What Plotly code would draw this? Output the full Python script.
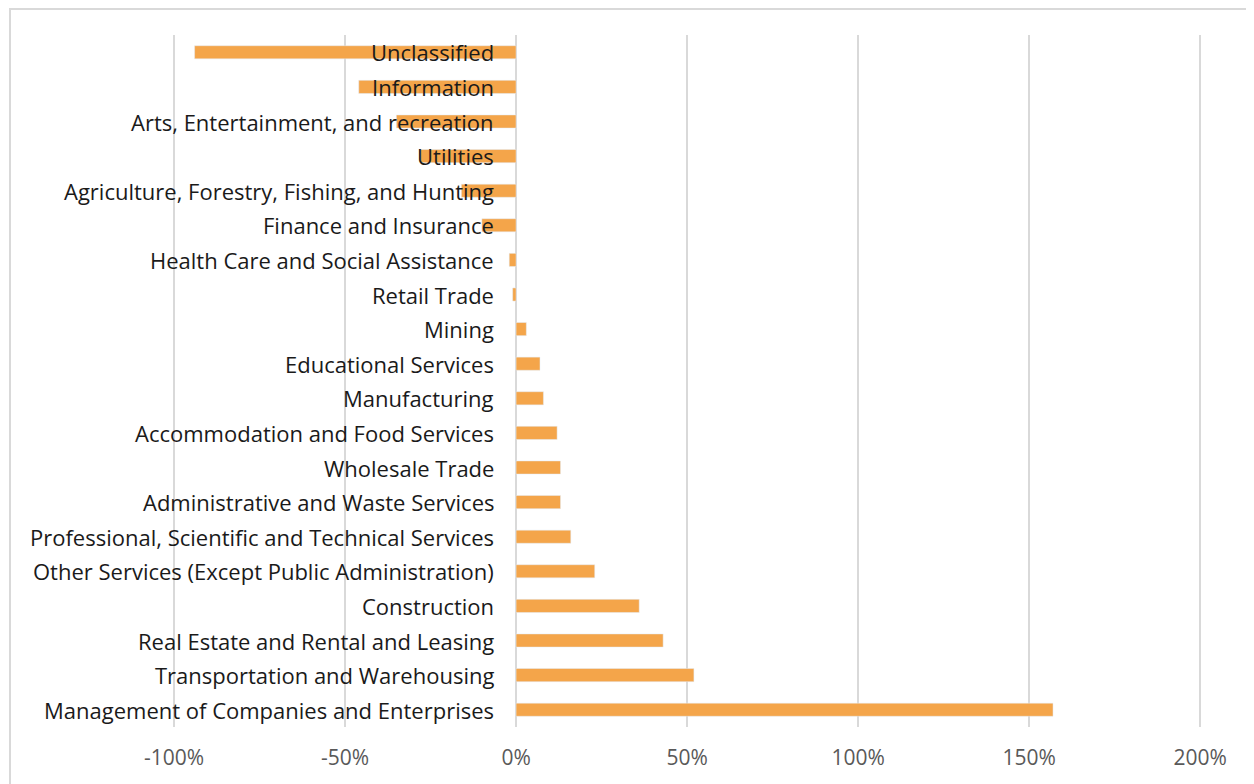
import plotly.graph_objects as go

industries = [
    "Management of Companies and Enterprises",
    "Transportation and Warehousing",
    "Real Estate and Rental and Leasing",
    "Construction",
    "Other Services (Except Public Administration)",
    "Professional, Scientific and Technical Services",
    "Administrative and Waste Services",
    "Wholesale Trade",
    "Accommodation and Food Services",
    "Manufacturing",
    "Educational Services",
    "Mining",
    "Retail Trade",
    "Health Care and Social Assistance",
    "Finance and Insurance",
    "Agriculture, Forestry, Fishing, and Hunting",
    "Utilities",
    "Arts, Entertainment, and recreation",
    "Information",
    "Unclassified",
]
change_pct = [157, 52, 43, 36, 23, 16, 13, 13, 12, 8, 7, 3, -1, -2, -10, -16, -28, -35, -46, -94]
x_ticks = [-100, -50, 0, 50, 100, 150, 200]
x_tick_labels = ["-100%", "-50%", "0%", "50%", "100%", "150%", "200%"]

fig = go.Figure()
fig.add_trace(go.Bar(
    x=change_pct, y=industries, orientation="h",
    marker_color="#F4A54A", width=0.38,
))

# category labels sit at the zero line, over the negative bars
for name in industries:
    fig.add_annotation(
        x=0, y=name, xref="x", yref="y", text=name, showarrow=False,
        xanchor="right", xshift=-20,
        font=dict(family="Open Sans", size=22, color="#1a1a1a"),
    )

# outer chart border
fig.add_shape(type="rect", xref="paper", yref="paper",
              x0=-0.0032, x1=1.02, y0=-0.2, y1=1.0376,
              line=dict(color="#d9d9d9", width=2), fillcolor="rgba(0,0,0,0)")

fig.update_layout(
    width=1254, height=784,
    margin=dict(l=6, r=0, t=27, b=65),
    paper_bgcolor="white", plot_bgcolor="white",
    showlegend=False,
    font=dict(family="Open Sans", size=21, color="#595959"),
    xaxis=dict(
        range=[-146.8, 218.1], tickvals=x_ticks, ticktext=x_tick_labels,
        showgrid=True, gridcolor="#d9d9d9", gridwidth=1.5,
        zeroline=True, zerolinecolor="#d9d9d9", zerolinewidth=1.5,
        showline=False, ticks="", ticklabelstandoff=16,
    ),
    yaxis=dict(showticklabels=False, showgrid=False, zeroline=False, showline=False),
)

fig.write_html("out.html")
